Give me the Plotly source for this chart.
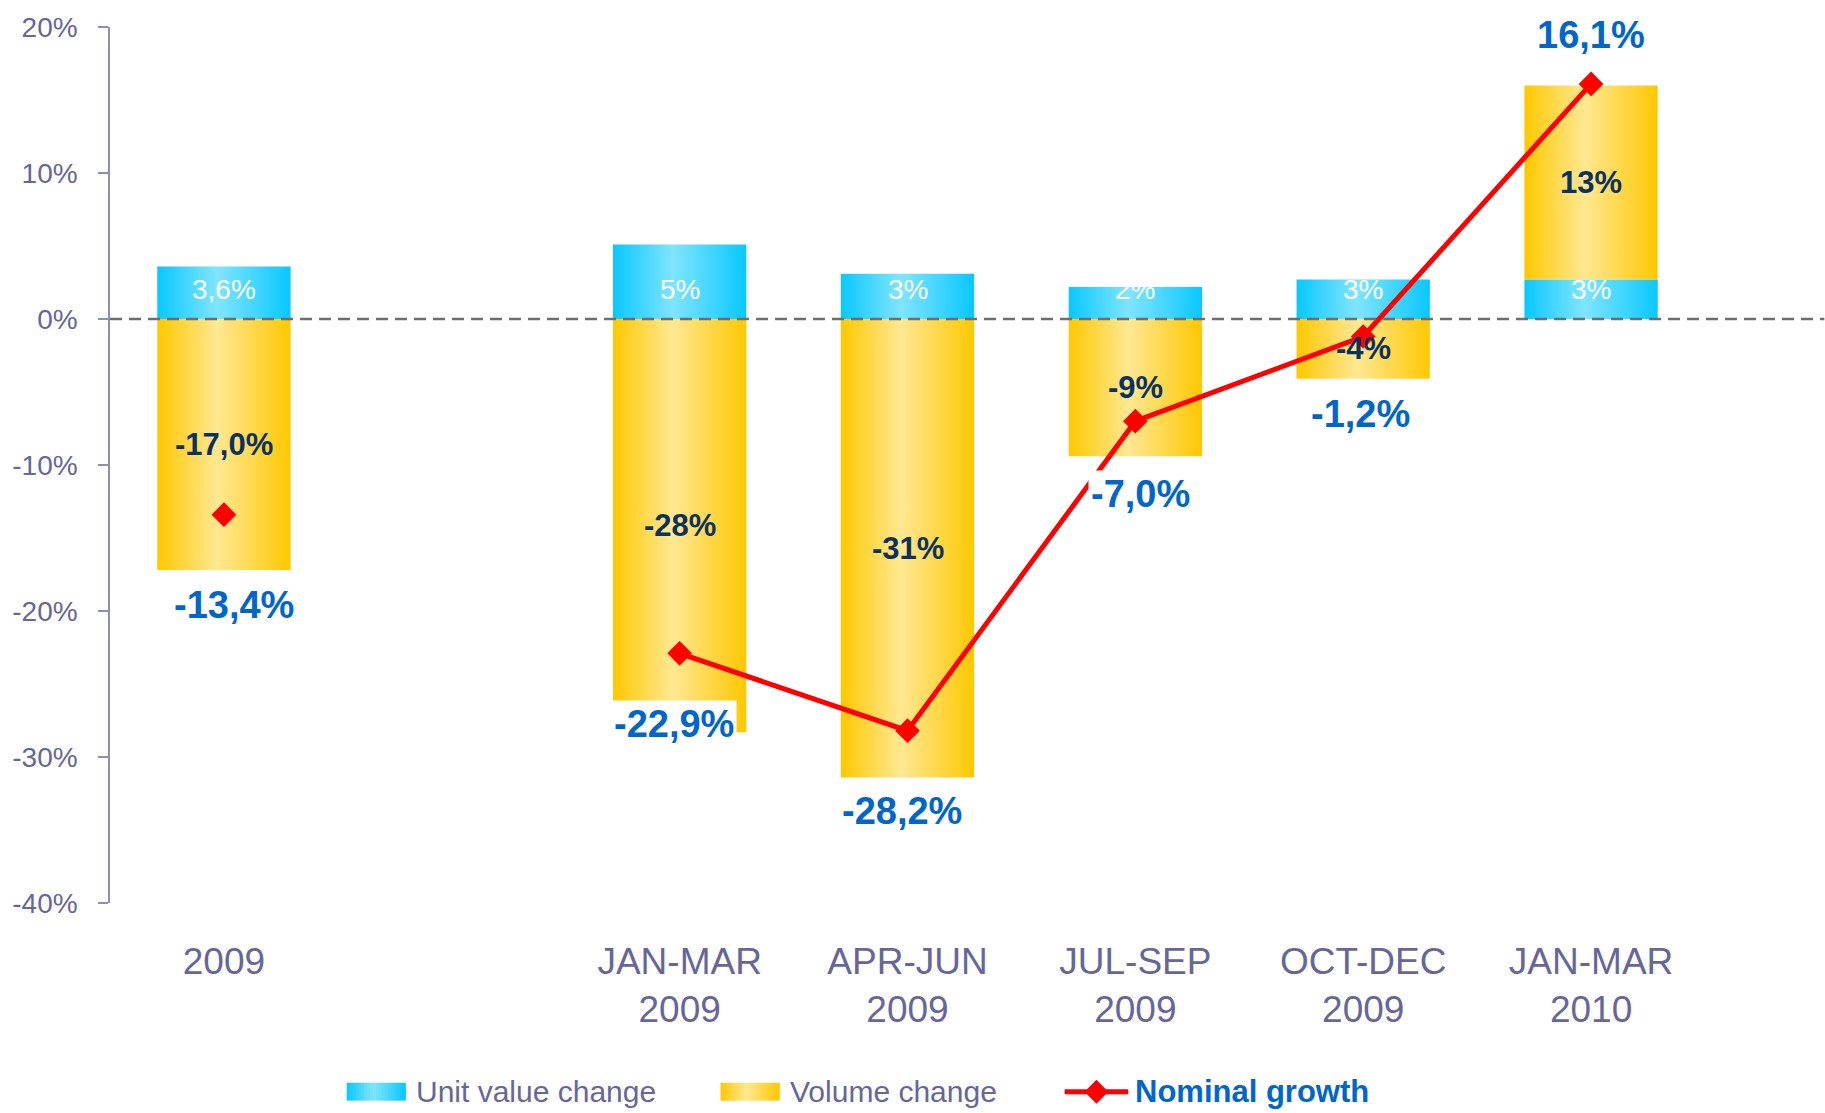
import plotly.graph_objects as go

# ---------------- data ----------------
categories = ["2009", "", "JAN-MAR<br>2009", "APR-JUN<br>2009", "JUL-SEP<br>2009",
              "OCT-DEC<br>2009", "JAN-MAR<br>2010"]
unit_value = [3.6, None, 5.1, 3.1, 2.2, 2.7, 2.7]
volume = [-17.2, None, -28.3, -31.4, -9.4, -4.1, 13.3]
nominal = [-13.4, None, -22.9, -28.2, -7.0, -1.2, 16.1]
unit_labels = ["3,6%", "", "5%", "3%", "2%", "3%", "3%"]
volume_labels = ["-17,0%", "", "-28%", "-31%", "-9%", "-4%", "13%"]
nominal_labels = ["-13,4%", "", "-22,9%", "-28,2%", "-7,0%", "-1,2%", "16,1%"]
y_ticks = [-40, -30, -20, -10, 0, 10, 20]
y_tick_labels = ["-40%", "-30%", "-20%", "-10%", "0%", "10%", "20%"]
series_names = ["Unit value change", "Volume change", "Nominal growth"]

# ---------------- style ----------------
FONT = "Liberation Sans, Arial, sans-serif"
AXIS_TXT = "#66669A"
AXIS_LINE = "#8E8EB6"
NAVY = "#0B3161"
BLUE = "#0066CC"
RED = "#FF0000"
CYAN_SCALE = [[0, "#08C8FF"], [0.45, "#80E5FF"], [1, "#08C8FF"]]
YEL_SCALE = [[0, "#FFC800"], [0.45, "#FFE892"], [1, "#FFC800"]]
BAR_W = 0.585
nom_shift = [(10, -90), None, (-6, -71), (-6, -80), (5, -73), (-3, -77), (0, 49)]

xpos = list(range(len(categories)))
fig = go.Figure()


def bar_poly(x, y0, y1, scale):
    fig.add_trace(go.Scatter(
        x=[x - BAR_W / 2, x + BAR_W / 2, x + BAR_W / 2, x - BAR_W / 2, x - BAR_W / 2],
        y=[y0, y0, y1, y1, y0], mode="lines", fill="toself",
        fillgradient=dict(type="horizontal", colorscale=scale),
        line=dict(width=0, color="rgba(0,0,0,0)"), hoverinfo="skip", showlegend=False))


annotations = []
for i, x in enumerate(xpos):
    u, v = unit_value[i], volume[i]
    if u is None:
        continue
    bar_poly(x, 0, u, CYAN_SCALE)
    base = 0 if v < 0 else u
    bar_poly(x, base, base + v, YEL_SCALE)
    annotations.append(dict(x=x, y=2.0, text=unit_labels[i], showarrow=False,
                            font=dict(family=FONT, size=28, color="white")))
    annotations.append(dict(x=x, y=base + v / 2, text=volume_labels[i], showarrow=False,
                            font=dict(family=FONT, size=31, color=NAVY, weight="bold")))

fig.add_trace(go.Scatter(
    x=xpos, y=nominal, mode="lines+markers", connectgaps=False,
    line=dict(color=RED, width=5), marker=dict(symbol="diamond", size=19, color=RED),
    cliponaxis=False, hoverinfo="skip", showlegend=False))

for i, x in enumerate(xpos):
    if nominal[i] is None:
        continue
    xs, ys = nom_shift[i]
    annotations.append(dict(x=x, y=nominal[i], text=nominal_labels[i], showarrow=False,
                            xshift=xs, yshift=ys, bgcolor="white", borderpad=2,
                            font=dict(family=FONT, size=38, color=BLUE, weight="bold")))

# ---------------- manual legend ----------------
W, H = 1825, 1113
PL, PW, PT, PH = 101, 1604, 21, 882


def px(xp):
    return (xp - PL) / PW


def py(yp):
    return (PT + PH - yp) / PH


def interp(scale, t):
    for (a, ca), (b, cb) in zip(scale[:-1], scale[1:]):
        if a <= t <= b:
            f = (t - a) / (b - a) if b > a else 0
            c1 = [int(ca[k:k + 2], 16) for k in (1, 3, 5)]
            c2 = [int(cb[k:k + 2], 16) for k in (1, 3, 5)]
            return "rgb(%d,%d,%d)" % tuple(round(c1[j] + (c2[j] - c1[j]) * f) for j in range(3))
    return scale[-1][1]


shapes = []
LEG_Y = 1093
for (x0, scale) in [(339, CYAN_SCALE), (715, YEL_SCALE)]:
    n = 20
    w = 59 / n
    for k in range(n):
        shapes.append(dict(type="rect", xref="paper", yref="paper",
                           x0=px(x0 + k * w), x1=px(x0 + (k + 1) * w + 0.6),
                           y0=py(LEG_Y + 9), y1=py(LEG_Y - 9),
                           fillcolor=interp(scale, (k + 0.5) / n), line=dict(width=0)))
shapes.append(dict(type="line", xref="paper", yref="paper", x0=px(1061), x1=px(1125),
                   y0=py(LEG_Y), y1=py(LEG_Y), line=dict(color=RED, width=5)))
shapes.append(dict(type="path", xref="paper", yref="paper",
                   path="M %f %f L %f %f L %f %f L %f %f Z" % (
                       px(1093 - 12), py(LEG_Y), px(1093), py(LEG_Y - 12),
                       px(1093 + 12), py(LEG_Y), px(1093), py(LEG_Y + 12)),
                   fillcolor=RED, line=dict(width=0)))
for xt, name, bold in [(407, series_names[0], False), (783, series_names[1], False),
                       (1130, series_names[2], True)]:
    annotations.append(dict(xref="paper", yref="paper", x=px(xt), y=py(LEG_Y), text=name,
                            showarrow=False, xanchor="left", yanchor="middle",
                            font=dict(family=FONT, size=31 if bold else 30,
                                      color=BLUE if bold else AXIS_TXT,
                                      weight="bold" if bold else "normal")))

# dashed zero line extending to the right edge of the picture
shapes.append(dict(type="line", xref="paper", yref="y", x0=0, x1=px(W), y0=0, y1=0,
                   layer="above", line=dict(color="#6E6E6E", width=2.5, dash="12px,7px")))

fig.update_layout(
    width=W, height=H,
    margin=dict(l=PL, r=W - PL - PW, t=PT, b=H - PT - PH),
    plot_bgcolor="white", paper_bgcolor="white",
    showlegend=False,
    xaxis=dict(range=[-0.5, 6.5], tickvals=[x for x, c in zip(xpos, categories) if c],
               ticktext=[c for c in categories if c], showgrid=False, zeroline=False,
               showline=False, ticks="", ticklabelstandoff=33,
               tickfont=dict(family=FONT, size=37, color=AXIS_TXT)),
    yaxis=dict(range=[-40, 20], tickvals=y_ticks, ticktext=y_tick_labels, showgrid=False,
               zeroline=False, showline=True, linecolor=AXIS_LINE, linewidth=1.5,
               ticks="outside", ticklen=10, tickwidth=1.5, tickcolor=AXIS_LINE,
               ticklabelstandoff=15,
               tickfont=dict(family=FONT, size=28, color=AXIS_TXT)),
    shapes=shapes, annotations=annotations,
)

fig.write_html("out.html", config={"displayModeBar": False},
               post_script="document.body.style.margin='0';"
                           "document.body.style.overflow='hidden';")
